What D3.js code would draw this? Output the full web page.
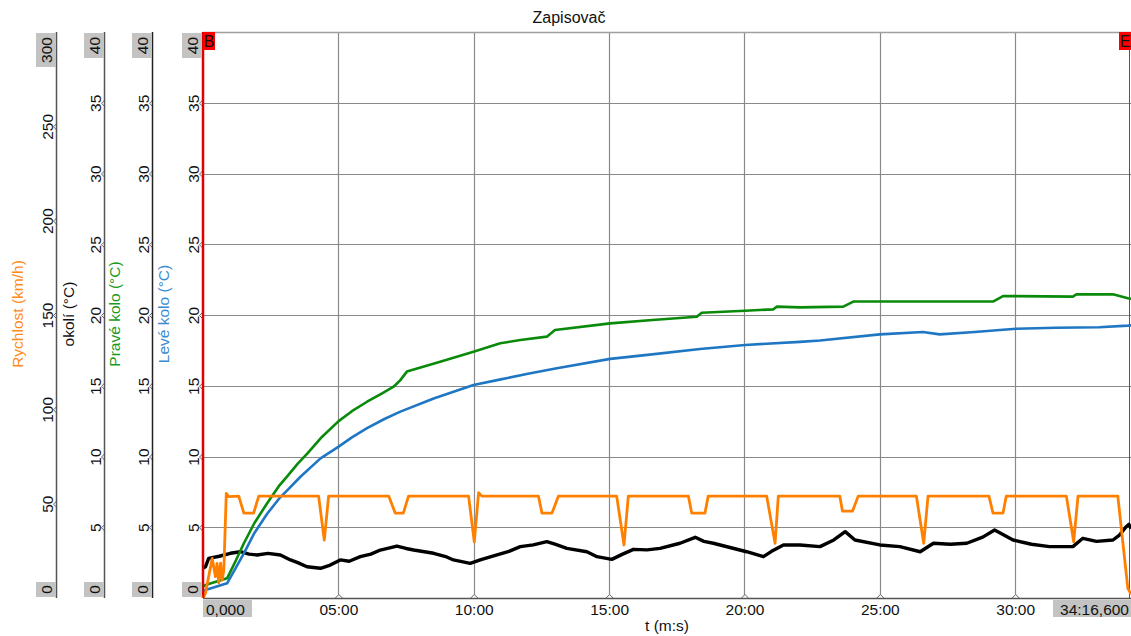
<!DOCTYPE html>
<html><head><meta charset="utf-8">
<script src="https://cdn.jsdelivr.net/npm/d3@7"></script>
<style>
body{margin:0;background:#fff;}
svg{display:block;font-family:"Liberation Sans",Arial,sans-serif;}
</style></head>
<body><svg id="c" width="1131" height="636"></svg>
<script>
// ---- data (time in minutes) ----
const tEnd = 34.2767; // 34:16,600
const xTicks = [5, 10, 15, 20, 25, 30];
const xTickLabels = ["05:00", "10:00", "15:00", "20:00", "25:00", "30:00"];
const tempTicks = [5, 10, 15, 20, 25, 30, 35];
const speedTicks = [50, 100, 150, 200, 250];

const leveT = [0.0,0.09,0.89,1.2,1.51,1.9,2.37,2.8,3.11,3.6,4.34,5.01,5.5,6.06,6.7,7.29,8.52,9.99,11.0,12.0,13.07,15.04,16.5,18.36,20.02,22.05,22.79,25.0,26.59,27.21,28.5,29.67,30.04,31.5,33.1,34.16,34.28];
const leveV = [0.45,0.57,1.04,2.1,3.16,4.6,5.95,7.0,7.6,8.57,9.87,10.7,11.35,12.0,12.65,13.17,14.1,15.05,15.45,15.85,16.23,16.9,17.2,17.6,17.88,18.1,18.2,18.63,18.8,18.63,18.8,18.98,19.03,19.1,19.13,19.25,19.27];

const praveT = [0.0,0.09,0.89,1.2,1.51,1.9,2.37,2.8,3.11,3.5,3.85,4.4,5.01,5.5,6.06,6.6,7.04,7.29,7.53,8.76,9.99,10.98,11.72,12.70,13.0,15.04,16.6,18.24,18.42,20.02,21.07,21.19,22.05,23.65,24.02,29.18,29.55,32.13,32.26,33.61,34.16,34.28];
const praveV = [0.8,0.92,1.39,2.6,3.87,5.3,6.7,7.9,8.6,9.5,10.2,11.4,12.5,13.2,13.87,14.45,14.93,15.4,16.0,16.7,17.4,18.0,18.23,18.47,18.94,19.41,19.65,19.88,20.16,20.3,20.4,20.59,20.54,20.59,20.95,20.95,21.34,21.3,21.46,21.46,21.18,21.15];

const speedT = [0.0,0.09,0.34,0.46,0.52,0.58,0.65,0.71,0.77,0.86,0.95,1.32,1.51,1.87,2.06,4.27,4.48,4.64,6.86,7.10,7.40,7.59,9.81,10.02,10.18,10.3,12.39,12.52,12.89,13.13,15.28,15.55,15.71,17.93,18.05,18.54,18.66,20.82,21.13,21.25,23.52,23.62,23.99,24.20,26.35,26.62,26.78,29.03,29.18,29.55,29.67,31.89,32.16,32.32,33.79,34.16,34.28];
const speedV = [0,2.5,21,11.3,18.4,8,18.5,9.5,15,55.5,53.7,54,45,45,54,54,30.7,54,54,45,45,54,54,29.8,55.8,54,54,45,45,54,54,28.1,54,54,45,45,54,54,29.0,54,54,46,46,54,54,29.0,54,54,45,45,54,54,29.8,54,54,5.1,2];

const okoliT = [0.0,0.09,0.21,0.6,1.01,1.38,1.7,2.0,2.4,2.86,3.23,3.5,3.84,4.34,4.70,5.07,5.4,5.81,6.2,6.55,7.16,7.5,7.78,8.52,9.0,9.25,9.87,10.24,10.86,11.3,11.72,12.2,12.70,13.0,13.44,14.18,14.55,15.10,15.5,15.90,16.4,16.88,17.62,18.18,18.5,18.85,19.5,20.08,20.70,21.0,21.44,22.05,22.79,23.3,23.72,24.08,25.0,25.74,26.49,26.98,27.6,28.21,28.8,29.24,29.92,30.6,31.27,32.13,32.50,33.0,33.61,33.85,34.10,34.20,34.28];
const okoliV = [2.1,2.2,2.8,2.95,3.16,3.27,3.1,3.04,3.15,3.04,2.69,2.5,2.21,2.1,2.33,2.69,2.6,2.92,3.1,3.39,3.67,3.5,3.39,3.16,2.9,2.69,2.45,2.69,3.04,3.3,3.63,3.75,3.98,3.8,3.51,3.27,2.92,2.73,3.1,3.44,3.4,3.51,3.87,4.29,4.0,3.87,3.55,3.27,2.92,3.3,3.75,3.75,3.63,4.1,4.69,4.1,3.75,3.63,3.27,3.87,3.8,3.87,4.3,4.81,4.1,3.8,3.63,3.63,4.22,4.0,4.1,4.45,5.04,5.2,4.9];

// ---- layout ----
const L = 203, R = 1131, T = 32, B = 598;
const svg = d3.select("#c");
const x = d3.scaleLinear().domain([0, tEnd]).range([L, R]);
const yT = d3.scaleLinear().domain([0, 40]).range([B, T]);
const yS = d3.scaleLinear().domain([0, 300]).range([B, T]);

const FONT = 15.5;
svg.append("text").attr("x", 569).attr("y", 23).attr("text-anchor", "middle")
  .attr("font-size", 16).attr("fill", "#111").text("Zapisovač");

// grid
const grid = svg.append("g");
grid.selectAll(".h").data(tempTicks).join("line")
  .attr("x1", L).attr("x2", R).attr("y1", d => Math.round(yT(d)) + 0.5).attr("y2", d => Math.round(yT(d)) + 0.5)
  .attr("stroke", "#8a8a8a").attr("stroke-width", 1.2);
grid.selectAll(".v").data(xTicks).join("line")
  .attr("x1", d => Math.round(x(d)) + 0.5).attr("x2", d => Math.round(x(d)) + 0.5).attr("y1", T).attr("y2", B)
  .attr("stroke", "#8a8a8a").attr("stroke-width", 1.2);
svg.append("line").attr("x1", L).attr("x2", R).attr("y1", T + 0.5).attr("y2", T + 0.5)
  .attr("stroke", "#a0a0a0").attr("stroke-width", 1.5);
svg.append("line").attr("x1", R - 1.5).attr("x2", R - 1.5).attr("y1", T).attr("y2", B)
  .attr("stroke", "#555").attr("stroke-width", 1);

// ---- vertical axes ----
function vAxis(ax, scale, ticks, endVals, endH, lineColor, title, titleColor, titleX) {
  const g = svg.append("g").attr("transform", `translate(${ax},0)`);
  g.call(d3.axisLeft(scale).tickValues(ticks).tickSize(0).tickPadding(0));
  g.select(".domain").remove();
  g.append("line").attr("x1", -0.5).attr("x2", -0.5).attr("y1", T).attr("y2", B)
    .attr("stroke", lineColor).attr("stroke-width", 1.5);
  g.selectAll(".tick").each(function () {
    const t = d3.select(this);
    t.insert("path", "text").attr("d", "M0,-3.5L-3.5,0L0,3.5").attr("fill", "#fff").attr("stroke", "#666").attr("stroke-width", 1);
    t.select("text").attr("x", null).attr("dy", null)
      .attr("transform", "translate(-4,0) rotate(-90)")
      .attr("text-anchor", "middle").attr("font-size", FONT).attr("font-family", null).attr("fill", "#111");
  });
  const top = endVals[1], bot = endVals[0];
  g.append("rect").attr("x", -21).attr("y", T + 1).attr("width", 20).attr("height", endH).attr("fill", "#c3c3c3");
  g.append("text").attr("transform", `translate(-5,${T + 1 + endH / 2}) rotate(-90)`).attr("text-anchor", "middle")
    .attr("font-size", FONT).attr("fill", "#111").text(top);
  g.append("rect").attr("x", -21).attr("y", B - 16).attr("width", 20).attr("height", 15).attr("fill", "#c3c3c3");
  g.append("text").attr("transform", `translate(-5,${B - 8.5}) rotate(-90)`).attr("text-anchor", "middle")
    .attr("font-size", FONT).attr("fill", "#111").text(bot);
  svg.append("text").attr("transform", `translate(${titleX},${314}) rotate(-90)`).attr("text-anchor", "middle")
    .attr("font-size", 15.5).attr("fill", titleColor).text(title);
}
vAxis(57, yS, speedTicks, [0, 300], 34, "#555", "Rychlost (km/h)", "#ff8c1a", 23);
vAxis(105, yT, tempTicks, [0, 40], 25, "#555", "okolí (°C)", "#111", 74);
vAxis(153, yT, tempTicks, [0, 40], 25, "#222", "Pravé kolo (°C)", "#1a9a1a", 120);
vAxis(203, yT, tempTicks, [0, 40], 25, "#e00000", "Levé kolo (°C)", "#3a8ad0", 169);

// ---- x axis ----
const gx = svg.append("g").attr("transform", `translate(0,${B})`);
gx.call(d3.axisBottom(x).tickValues(xTicks).tickFormat((d, i) => xTickLabels[i]).tickSize(0).tickPadding(0));
gx.select(".domain").remove();
gx.append("line").attr("x1", L).attr("x2", R).attr("y1", 0.5).attr("y2", 0.5).attr("stroke", "#555").attr("stroke-width", 1.3);
gx.selectAll(".tick").each(function () {
  const t = d3.select(this);
  t.insert("path", "text").attr("d", "M-3.5,0L0,-3.5L3.5,0").attr("fill", "#fff").attr("stroke", "#666");
  t.select("text").attr("y", 17).attr("dy", null).attr("font-size", FONT).attr("font-family", null).attr("fill", "#111");
});
svg.append("rect").attr("x", 203).attr("y", 600).attr("width", 49).attr("height", 17).attr("fill", "#c3c3c3");
svg.append("text").attr("x", 206).attr("y", 615).attr("font-size", FONT).attr("fill", "#111").text("0,000");
svg.append("rect").attr("x", 1053).attr("y", 600).attr("width", 78).attr("height", 17).attr("fill", "#c3c3c3");
svg.append("text").attr("x", 1129).attr("y", 615).attr("text-anchor", "end").attr("font-size", FONT).attr("fill", "#111").text("34:16,600");
svg.append("text").attr("x", 667).attr("y", 631).attr("text-anchor", "middle").attr("font-size", FONT).attr("fill", "#111").text("t (m:s)");

// ---- lines ----
const plot = svg.append("g");
function series(ts, vs, scale, color, w) {
  const data = ts.map((t, i) => [t, vs[i]]);
  plot.append("path").datum(data)
    .attr("d", d3.line().x(d => x(d[0])).y(d => scale(d[1])))
    .attr("fill", "none").attr("stroke", color).attr("stroke-width", w).attr("stroke-linejoin", "round");
}
series(okoliT, okoliV, yT, "#000", 3.4);
series(leveT, leveV, yT, "#1f77c4", 2.6);
series(praveT, praveV, yT, "#0a8a0a", 2.6);
series(speedT, speedV, yS, "#ff8000", 2.8);

// markers
svg.append("line").attr("x1", L + 0.5).attr("x2", L + 0.5).attr("y1", T).attr("y2", B).attr("stroke", "#e00000").attr("stroke-width", 1.5);
svg.append("rect").attr("x", L).attr("y", T).attr("width", 12).attr("height", 18).attr("fill", "#ff0000");
svg.append("text").attr("x", L + 6).attr("y", T + 15).attr("text-anchor", "middle").attr("font-size", 16).attr("fill", "#111").text("B");
svg.append("rect").attr("x", R - 12).attr("y", T).attr("width", 12).attr("height", 18).attr("fill", "#ff0000");
svg.append("text").attr("x", R - 6).attr("y", T + 15).attr("text-anchor", "middle").attr("font-size", 16).attr("fill", "#111").text("E");
</script></body></html>
